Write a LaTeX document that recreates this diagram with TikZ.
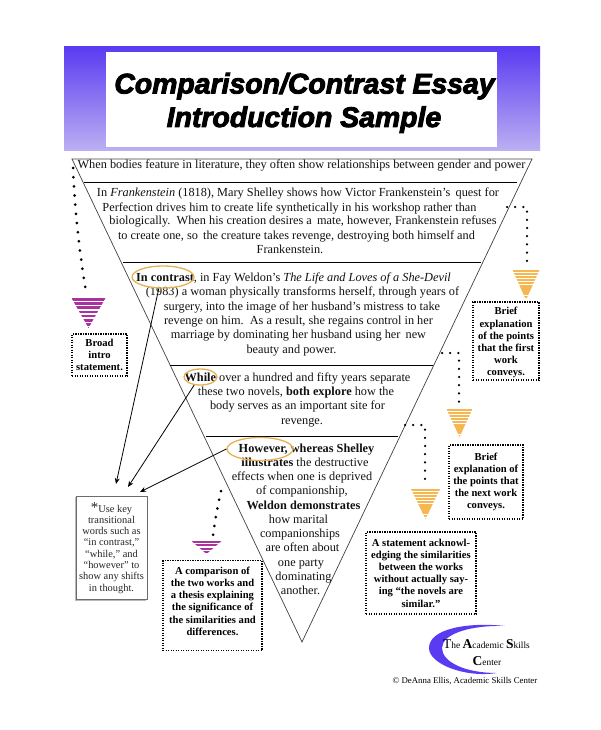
\documentclass[tikz,border=0pt]{standalone}
\usepackage{fontspec}
\setmainfont{Liberation Serif}
\newfontfamily\titlef[FakeBold=3.2]{Liberation Sans}
\usetikzlibrary{arrows.meta,calc,shapes.geometric}
\definecolor{bannerblue}{HTML}{5A3BF2}
\definecolor{bannerlite}{HTML}{BDB0F2}
\definecolor{ringo}{HTML}{E8B050}
\definecolor{funo}{HTML}{F6B650}
\definecolor{funp}{HTML}{A8329E}
\definecolor{inkb}{HTML}{111111}
\tikzset{
  ln/.style={anchor=base,inner sep=0pt,yshift=-3.5pt,font=\fontsize{12.3}{14}\selectfont,text=inkb},
  titlet/.style={anchor=base,inner sep=0pt,font=\titlef\bfseries\itshape\fontsize{28.4}{34}\selectfont},
  dotbox/.style={draw=black,line width=1.3pt,dash pattern=on 1.3pt off 1.2pt,align=center,inner sep=0pt,
     font=\bfseries\fontsize{10.6}{12.2}\selectfont},
  notebox/.style={draw=gray!85!black,line width=.8pt,fill=white,align=center,inner sep=0pt,
     font=\fontsize{10.4}{11.1}\selectfont,text=black!85},
  ring/.style={draw=ringo,line width=1.3pt,ellipse,inner sep=0pt},
  dotline/.style={line width=3pt,line cap=round,dash pattern=on 0pt off 9.2pt},
  wedge/.style={draw=black!75,line width=.7pt},
  rule/.style={draw=black,line width=.9pt},
  arr/.style={draw=black,line width=.8pt,-{Stealth[length=6pt,width=5pt]}},
}
\newcommand{\myfunnel}[7]{% cx, ytop, halfwidth, height, colour, stripe, period
  \begin{scope}
    \clip (#1-#3,#2) -- (#1+#3,#2) -- (#1,#2+#4) -- cycle;
    \foreach \k in {0,...,20}{
      \fill[#5] (#1-#3,{#2+\k*#7}) rectangle (#1+#3,{#2+\k*#7+#6});
    }
  \end{scope}}
\begin{document}
\begin{tikzpicture}[x=1pt,y=-1pt]
\useasboundingbox (0,0) rectangle (600,730);
% banner
\shade[top color=bannerblue,bottom color=bannerlite] (64,47) rectangle (540,151);
\fill[white] (106,52) rectangle (497,147);
\node[titlet] (t1) at (304.5,93.5) {Comparison/Contrast Essay};
\node[titlet] (t2) at (304,127) {Introduction Sample};
% wedge
\coordinate (wl) at (72,159);
\coordinate (wr) at (532,159);
\coordinate (wa) at (302,642);
\draw[wedge] (wl) -- (wr) -- (wa) -- cycle;
\coordinate (r1a) at (84,182);  \coordinate (r1b) at (517,182);
\coordinate (r2a) at (123,262); \coordinate (r2b) at (481,262);
\coordinate (r3a) at (170,365); \coordinate (r3b) at (433,365);
\coordinate (r4a) at (206,436); \coordinate (r4b) at (398,436);
\draw[rule] (r1a) -- (r1b);
\draw[rule] (r2a) -- (r2b);
\draw[rule] (r3a) -- (r3b);
\draw[rule] (r4a) -- (r4b);
% paragraph lines
\node[ln] (a1) at (301.5,165) {When bodies feature in literature, they often show relationships between gender and power};
\node[ln] (b1) at (298,193) {In \textit{Frankenstein} (1818), Mary Shelley shows how Victor Frankenstein’s\, quest for};
\node[ln] (b2) at (289.5,208) {Perfection drives him to create life synthetically in his workshop rather than};
\node[ln] (b3) at (303,221) {biologically.\, When his creation desires a\, mate, however, Frankenstein refuses};
\node[ln] (b4) at (296.5,236) {to create one, so\, the creature takes revenge, destroying both himself and};
\node[ln] (b5) at (290,250) {Frankenstein.};
\node[ln] (c1) at (293.5,278) {\textbf{In contrast}, in Fay Weldon’s \textit{The Life and Loves of a She-Devil}};
\node[ln] (c2) at (302.5,292) {(1983) a woman physically transforms herself, through years of};
\node[ln] (c3) at (302,307) {surgery, into the image of her husband’s mistress to take};
\node[ln] (c4) at (298.5,321) {revenge on him.\, As a result, she regains control in her};
\node[ln] (c5) at (298.5,335) {marriage by dominating her husband using her\, new};
\node[ln] (c6) at (291.5,349.5) {beauty and power.};
\node[ln] (d1) at (297.5,378) {\textbf{While} over a hundred and fifty years separate};
\node[ln] (d2) at (296,392) {these two novels, \textbf{both explore} how the};
\node[ln] (d3) at (297.5,406) {body serves as an important site for};
\node[ln] (d4) at (302,421) {revenge.};
\node[ln] (e1) at (306.5,449) {\textbf{However, whereas Shelley}};
\node[ln] (e2) at (305,463) {\textbf{illustrates} the destructive};
\node[ln] (e3) at (302,477) {effects when one is deprived};
\node[ln] (e4) at (302,491) {of companionship,};
\node[ln] (e5) at (303.5,506) {\textbf{Weldon demonstrates}};
\node[ln] (e6) at (298.5,520) {how marital};
\node[ln] (e7) at (300,534) {companionships};
\node[ln] (e8) at (302.5,548) {are often about};
\node[ln] (e9) at (301,563) {one party};
\node[ln] (e10) at (303.5,577) {dominating};
\node[ln] (e11) at (300.5,591) {another.};
% rings
\node[ring,minimum width=62pt,minimum height=22pt] (rc) at (163,277) {};
\node[ring,minimum width=33pt,minimum height=16pt] (rw) at (200.5,377) {};
\node[ring,minimum width=66pt,minimum height=23pt] (rh) at (260,449) {};
% note box
\fill[gray!55] (74.5,497) rectangle (146,601);
\node[notebox,minimum width=71pt,minimum height=103pt,anchor=north west] (note) at (76,496) {};
\node[inner sep=0pt,align=center,font=\fontsize{10.4}{11.1}\selectfont,text=black!85,anchor=north] (notetxt) at (111.5,502)
  {{\fontsize{15}{11}\selectfont *}Use key\\[.2pt]transitional\\[.2pt]words such as\\[.2pt]“in contrast,”\\[.2pt]“while,” and\\[.2pt]“however” to\\[.2pt]show any shifts\\[.2pt]in thought.};
% arrows to note
\coordinate (n1) at (116,484);
\coordinate (n2) at (128,487);
\coordinate (n3) at (140,492);
\draw[arr] (rc.250) -- (n1);
\draw[arr] (rw.232) -- (n2);
\draw[arr] (rh.west) -- (n3);
% dotted chains
\coordinate (p1) at (73,168);  \coordinate (p2) at (86,292);
\draw[dotline] (p1) .. controls (75,215) and (80,255) .. (p2);
\coordinate (q1) at (507,207); \coordinate (q2) at (527,207); \coordinate (q3) at (527,267);
\draw[dotline,dash pattern=on 0pt off 8.2pt,line width=2.5pt] (q1) -- (q2) -- (q3);
\coordinate (s1) at (442,353); \coordinate (s2) at (459,353); \coordinate (s3) at (459,405);
\draw[dotline,dash pattern=on 0pt off 8.2pt,line width=2.5pt] (s1) -- (s2) -- (s3);
\coordinate (u1) at (405,425); \coordinate (u2) at (425,425); \coordinate (u3) at (425,485);
\draw[dotline,dash pattern=on 0pt off 8.2pt,line width=2.5pt] (u1) -- (u2) -- (u3);
\coordinate (v1) at (221,491); \coordinate (v2) at (213,535);
\draw[dotline,dash pattern=on 0pt off 8.9pt] (v1) .. controls (218,505) and (215,520) .. (v2);
% funnels
\myfunnel{88.5}{298}{17}{30}{funp}{2.5}{4.2}
\myfunnel{526}{270}{13.5}{30}{funo}{2.2}{2.9}
\myfunnel{459.5}{409}{13}{28}{funo}{2.2}{2.9}
\myfunnel{425.5}{489}{14.5}{30}{funo}{2.2}{2.9}
\myfunnel{206.5}{541}{15}{13}{funp}{1.7}{3.4}
% dotted boxes
\node[dotbox,minimum width=55pt,minimum height=42pt] (bx1) at (99.5,355) {Broad\\intro\\statement.};
\node[dotbox,minimum width=66pt,minimum height=78pt] (bx2) at (506,341) {\rule{0pt}{11pt}Brief\\explanation\\of the points\\that the first\\work\\conveys.};
\node[dotbox,minimum width=74pt,minimum height=74pt] (bx3) at (486,482) {Brief\\explanation of\\the points that\\the next work\\conveys.};
\node[dotbox,minimum width=110pt,minimum height=82pt] (bx4) at (421,573) {A statement acknowl-\\edging the similarities\\between the works\\without actually say-\\ing “the novels are\\similar.”};
\node[dotbox,minimum width=99pt,minimum height=90pt,anchor=north] (bx5) at (212.5,560) {A comparison of\\the two works and\\a thesis explaining\\the significance of\\the similarities and\\\rule[-9pt]{0pt}{9pt}differences.};
% logo
\fill[bannerblue] (505,626) .. controls (470,622) and (429,628) .. (429,648)
   .. controls (429,664) and (465,678) .. (497,673)
   .. controls (465,673) and (442,662) .. (442,648)
   .. controls (442,634) and (470,625) .. (505,626) -- cycle;
\node[anchor=base,inner sep=0pt,font=\fontsize{9.4}{10}\selectfont] (lg1) at (486.5,648)
  {{\fontsize{13.5}{10}\selectfont T}he {\fontsize{13.5}{10}\selectfont\bfseries A}cademic {\fontsize{13.5}{10}\selectfont\bfseries S}kills};
\node[anchor=base,inner sep=0pt,font=\fontsize{9.4}{10}\selectfont] (lg2) at (487,665)
  {{\fontsize{13.5}{10}\selectfont\bfseries C}enter};
\node[anchor=base,inner sep=0pt,font=\fontsize{8.8}{10}\selectfont] (cpr) at (465,683) {© DeAnna Ellis, Academic Skills Center};
\end{tikzpicture}
\end{document}
